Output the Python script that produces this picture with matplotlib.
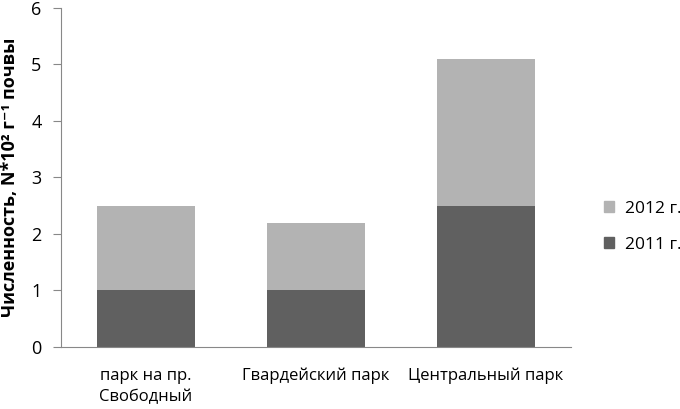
import numpy as np
import matplotlib.pyplot as plt
from matplotlib.patches import Patch

parks = ['парк на пр.\nСвободный', 'Гвардейский парк', 'Центральный парк']
y2011 = [1.0, 1.0, 2.5]
y2012 = [1.5, 1.2, 2.6]

plt.rcParams['font.family'] = ['Open Sans', 'DejaVu Sans']

fig = plt.figure(figsize=(6.8, 4.09), dpi=100)
ax = fig.add_axes([0.0897, 0.1516, 0.75, 0.829])

x = np.arange(len(parks))
ax.bar(x, y2011, width=0.576, color='#606060', label='2011 г.')
ax.bar(x, y2012, width=0.576, bottom=y2011, color='#b3b3b3', label='2012 г.')

ax.set_xlim(-0.5, 2.5)
ax.set_ylim(0, 6)
ax.set_yticks(range(7))
ax.set_xticks(x)
ax.set_xticklabels(parks, fontsize=12, linespacing=1.45)
ax.tick_params(axis='y', labelsize=13, length=6, color='#888888', pad=8)
ax.tick_params(axis='x', length=0, pad=15)
for s in ['top', 'right']:
    ax.spines[s].set_visible(False)
for s in ['left', 'bottom']:
    ax.spines[s].set_color('#888888')

ax.set_ylabel('Численность, N*10² г⁻¹ почвы', fontsize=13, fontweight='bold', labelpad=9)

handles = [Patch(color='#b3b3b3'), Patch(color='#606060')]
fig.legend(handles, ['2012 г.', '2011 г.'], loc='center left', bbox_to_anchor=(0.888, 0.445),
           frameon=False, fontsize=12.5, handlelength=0.6, handleheight=0.6, labelspacing=1.15,
           handletextpad=0.6, borderpad=0, borderaxespad=0)

fig.savefig('out.png', dpi=100)
